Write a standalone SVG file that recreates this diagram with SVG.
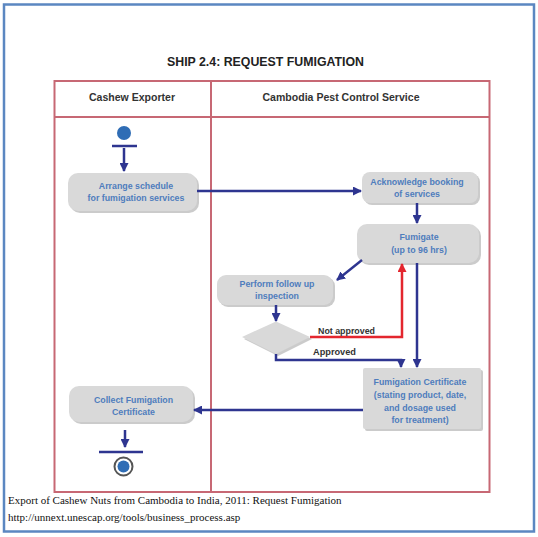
<svg xmlns="http://www.w3.org/2000/svg" width="538" height="537" viewBox="0 0 538 537">
<style>
.pool{fill:none;stroke:#c76874;stroke-width:2}
.shadow{fill:#a8a8a8;opacity:.6}
.box{fill:#d9d9d9}
.t{font-family:"Liberation Sans",Arial,sans-serif;font-size:8.8px;font-weight:bold;fill:#4f7dbd;text-anchor:middle}
.hdr{font-family:"Liberation Sans",Arial,sans-serif;font-size:10px;font-weight:bold;fill:#333;text-anchor:middle}
.lbl{font-family:"Liberation Sans",Arial,sans-serif;font-size:8.5px;font-weight:bold;fill:#333}
.flow{fill:none;stroke:#2e3590;stroke-width:2.5;marker-end:url(#ah)}
.red{fill:none;stroke:#e3262e;stroke-width:2.5;marker-end:url(#ahr)}
.foot{font-family:"Liberation Serif","Times New Roman",serif;font-size:11px;fill:#111}
</style>
<defs>
<marker id="ah" markerUnits="userSpaceOnUse" markerWidth="9" markerHeight="9" refX="8" refY="4.5" orient="auto">
<path d="M0,0 L9,4.5 L0,9 z" fill="#2e3590"/>
</marker>
<marker id="ahr" markerUnits="userSpaceOnUse" markerWidth="9" markerHeight="9" refX="8" refY="4.5" orient="auto">
<path d="M0,0 L9,4.5 L0,9 z" fill="#e3262e"/>
</marker>
</defs>
<rect x="0" y="0" width="538" height="537" fill="#fff"/>
<rect x="4" y="4.5" width="530" height="527" fill="none" stroke="#5b87c1" stroke-width="2.5"/>
<text x="265.5" y="66" font-family="Liberation Sans,Arial,sans-serif" font-size="12" font-weight="bold" fill="#222" text-anchor="middle" textLength="197" lengthAdjust="spacingAndGlyphs">SHIP 2.4: REQUEST FUMIGATION</text>
<g id="pool">
<rect class="pool" x="54.5" y="81" width="435" height="411"/>
<line class="pool" x1="54.5" y1="117" x2="489.5" y2="117"/>
<line class="pool" x1="211" y1="81" x2="211" y2="492"/>
<text class="hdr" x="132" y="101" textLength="86" lengthAdjust="spacingAndGlyphs">Cashew Exporter</text>
<text class="hdr" x="341" y="101" textLength="157" lengthAdjust="spacingAndGlyphs">Cambodia Pest Control Service</text>
</g>
<g id="start">
<circle cx="124" cy="133" r="7" fill="#2f6db5"/>
<line x1="112" y1="146" x2="137" y2="146" stroke="#2e3590" stroke-width="2.5"/>
</g>
<g id="arrange">
<rect class="shadow" x="70" y="175" width="129" height="38" rx="10"/>
<rect class="box" x="68" y="173" width="129" height="38" rx="10"/>
<text class="t" x="136" y="188.5">Arrange schedule</text>
<text class="t" x="136" y="200.5">for fumigation services</text>
</g>
<g id="acknowledge">
<rect class="shadow" x="364" y="174" width="116" height="31" rx="8"/>
<rect class="box" x="362" y="172" width="116" height="31" rx="8"/>
<text class="t" x="417" y="185">Acknowledge booking</text>
<text class="t" x="417" y="196.5">of services</text>
</g>
<g id="fumigate">
<rect class="shadow" x="359" y="226" width="122" height="39" rx="10"/>
<rect class="box" x="357" y="224" width="122" height="39" rx="10"/>
<text class="t" x="419" y="240">Fumigate</text>
<text class="t" x="419" y="253">(up to 96 hrs)</text>
</g>
<g id="perform">
<rect class="shadow" x="219" y="277" width="116" height="30" rx="9"/>
<rect class="box" x="217" y="275" width="116" height="30" rx="9"/>
<text class="t" x="277" y="286.5">Perform follow up</text>
<text class="t" x="277" y="298.5">inspection</text>
</g>
<g id="decision">
<polygon points="244,339 278,323.5 312,339 278,356" class="shadow"/>
<polygon points="242,337 276,321.5 310,337 276,354" class="box"/>
</g>
<g id="certificate">
<rect class="shadow" x="365" y="370" width="118" height="61" rx="2"/>
<rect class="box" x="363" y="368" width="118" height="61" rx="2"/>
<text class="t" x="420" y="385">Fumigation Certificate</text>
<text class="t" x="420" y="397.5">(stating product, date,</text>
<text class="t" x="420" y="410.5">and dosage used</text>
<text class="t" x="420" y="422.5">for treatment)</text>
</g>
<g id="collect">
<rect class="shadow" x="71" y="388" width="124" height="36" rx="10"/>
<rect class="box" x="69" y="386" width="124" height="36" rx="10"/>
<text class="t" x="133.5" y="402.5">Collect Fumigation</text>
<text class="t" x="133.5" y="415">Certificate</text>
</g>
<g id="end">
<line x1="99" y1="452" x2="143" y2="452" stroke="#2e3590" stroke-width="2.5"/>
<circle cx="123.5" cy="466.5" r="9" fill="#fff" stroke="#555" stroke-width="2"/>
<circle cx="123.5" cy="466.5" r="6" fill="#2f6db5"/>
</g>
<g id="connectors">
<path class="flow" d="M124,148 V171"/>
<path class="flow" d="M197,191 H361"/>
<path class="flow" d="M417,203 V223"/>
<path class="flow" d="M362,260 L337,280"/>
<path class="flow" d="M276,305 V321"/>
<path class="red" d="M310,337 H402 V264"/>
<path class="flow" d="M276,354 V360 H401 V367"/>
<path class="flow" d="M417,263 V367"/>
<path class="flow" d="M363,410 H194"/>
<path class="flow" d="M125,430 V447"/>
<text class="lbl" x="318" y="334" textLength="57" lengthAdjust="spacingAndGlyphs">Not approved</text>
<text class="lbl" x="313" y="355" textLength="43" lengthAdjust="spacingAndGlyphs">Approved</text>
</g>
<text class="foot" x="8" y="504">Export of Cashew Nuts from Cambodia to India, 2011: Request Fumigation</text>
<text class="foot" x="8" y="521">http://unnext.unescap.org/tools/business_process.asp</text>
</svg>
